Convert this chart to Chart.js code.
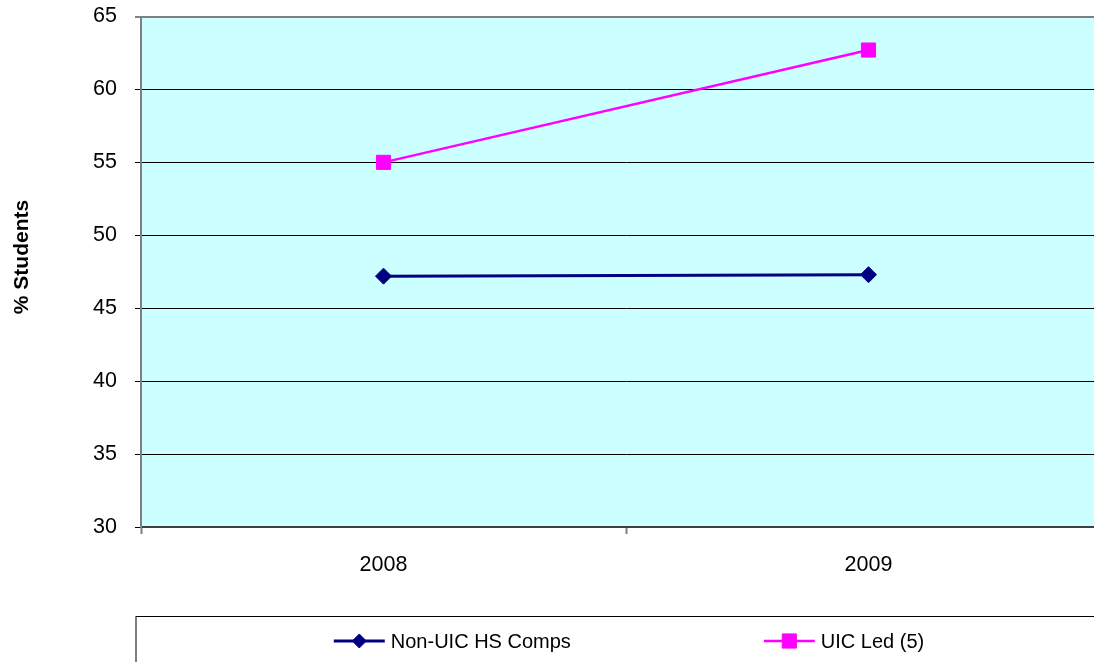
<!DOCTYPE html>
<html>
<head>
<meta charset="utf-8">
<title>% Students</title>
<script src="https://cdn.jsdelivr.net/npm/chart.js@4"></script>
<style>
  html, body { margin: 0; padding: 0; background: #ffffff; overflow: hidden; }
  #frame { position: relative; width: 1094px; height: 662px; overflow: hidden; }
  #chart { position: absolute; left: 0; top: 0; }
</style>
</head>
<body>
<div id="frame">
  <canvas id="chart" width="1122" height="700"></canvas>
</div>
<script>
// Survey years on the category axis
const years = ['2008', '2009'];

// Share of students (%) per group
const nonUicValues = [47.2, 47.3];
const uicLedValues = [55.0, 62.7];

const seriesNames = ['Non-UIC HS Comps', 'UIC Led (5)'];
const axisTitle = '% Students';

// Value axis range
const yMin = 30;
const yMax = 65;
const yStep = 5;

const FONT = '"Liberation Sans", Arial, sans-serif';

// Fills the plot area with the pale cyan panel colour
const plotBackground = {
  id: 'plotBackground',
  beforeDraw(chart) {
    const { ctx, chartArea: a } = chart;
    ctx.save();
    ctx.fillStyle = '#CCFFFF';
    ctx.fillRect(a.left, a.top, a.right - a.left, a.bottom - a.top);
    ctx.restore();
  }
};

// Rotated axis title, centred on the left margin
const sideTitle = {
  id: 'sideTitle',
  afterDraw(chart) {
    const { ctx } = chart;
    ctx.save();
    ctx.translate(22, 257);
    ctx.rotate(-Math.PI / 2);
    ctx.font = 'bold 21px ' + FONT;
    ctx.fillStyle = '#000000';
    ctx.textAlign = 'center';
    ctx.textBaseline = 'middle';
    ctx.fillText(axisTitle, 0, 0);
    ctx.restore();
  }
};

// Boxed legend below the axis, items laid out side by side
const boxedLegend = {
  id: 'boxedLegend',
  afterDraw(chart) {
    const { ctx } = chart;
    const boxLeft = 136, boxTop = 616.5, boxRight = 1122, boxBottom = 720;
    const rowY = 641;
    const sampleLen = 51, sampleGap = 6, itemGap = 193;
    ctx.save();
    ctx.strokeStyle = '#000000';
    ctx.lineWidth = 1;
    ctx.strokeRect(boxLeft, boxTop, boxRight - boxLeft, boxBottom - boxTop);

    ctx.font = '20px ' + FONT;
    const items = chart.data.datasets.map(ds => ({
      ds,
      w: sampleLen + sampleGap + ctx.measureText(ds.label).width
    }));
    const total = items.reduce((s, it) => s + it.w, 0) + itemGap * (items.length - 1);
    let x = (boxLeft + boxRight) / 2 - total / 2;

    items.forEach(({ ds, w }) => {
      ctx.strokeStyle = ds.borderColor;
      ctx.lineWidth = ds.borderWidth;
      ctx.beginPath();
      ctx.moveTo(x, rowY);
      ctx.lineTo(x + sampleLen, rowY);
      ctx.stroke();
      ctx.fillStyle = ds.pointBackgroundColor;
      ctx.strokeStyle = ds.pointBorderColor;
      ctx.lineWidth = ds.pointBorderWidth;
      Chart.helpers.drawPoint(ctx, {
        pointStyle: ds.pointStyle,
        radius: ds.legendPointRadius,
        borderWidth: ds.pointBorderWidth,
        rotation: 0
      }, x + sampleLen / 2, rowY);
      ctx.fillStyle = '#000000';
      ctx.textAlign = 'left';
      ctx.textBaseline = 'middle';
      ctx.fillText(ds.label, x + sampleLen + sampleGap, rowY + 1);
      x += w + itemGap;
    });
    ctx.restore();
  }
};

new Chart(document.getElementById('chart'), {
  type: 'line',
  data: {
    labels: years,
    datasets: [
      {
        label: seriesNames[0],
        data: nonUicValues,
        borderColor: '#000080',
        backgroundColor: '#000080',
        borderWidth: 3,
        pointStyle: 'rectRot',
        pointRadius: 8,
        legendPointRadius: 7,
        pointBorderWidth: 1,
        pointBackgroundColor: '#000080',
        pointBorderColor: '#000080',
        tension: 0,
        fill: false
      },
      {
        label: seriesNames[1],
        data: uicLedValues,
        borderColor: '#FF00FF',
        backgroundColor: '#FF00FF',
        borderWidth: 2.5,
        pointStyle: 'rect',
        pointRadius: 10,
        legendPointRadius: 10,
        pointBorderWidth: 1,
        pointBackgroundColor: '#FF00FF',
        pointBorderColor: '#FF00FF',
        tension: 0,
        fill: false
      }
    ]
  },
  options: {
    responsive: false,
    animation: false,
    devicePixelRatio: 1,
    layout: { padding: { left: 0, top: 16.5, right: 11, bottom: 0 } },
    plugins: {
      legend: { display: false },
      tooltip: { enabled: false },
      title: { display: false }
    },
    scales: {
      x: {
        type: 'category',
        offset: true,
        grid: {
          offset: true,
          drawOnChartArea: false,
          drawTicks: true,
          tickLength: 7,
          tickColor: '#808080',
          tickWidth: 2
        },
        border: { display: true, color: '#404040', width: 2 },
        ticks: {
          color: '#000000',
          font: { family: FONT, size: 21.5 },
          padding: 18,
          maxRotation: 0
        },
        afterFit(scale) { scale.height = 173; }
      },
      y: {
        min: yMin,
        max: yMax,
        grid: {
          color: ctx => (ctx.tick && ctx.tick.value === yMax ? '#808080' : '#000000'),
          lineWidth: ctx => (ctx.tick && ctx.tick.value === yMax ? 2 : 1),
          drawTicks: true,
          tickLength: 6,
          tickColor: '#000000',
          tickWidth: 1
        },
        border: { display: true, color: '#808080', width: 2 },
        ticks: {
          stepSize: yStep,
          color: '#000000',
          font: { family: FONT, size: 21.5 },
          padding: 18
        },
        afterFit(scale) {
          scale.width = 141;
          // only half a label's height is needed above and below the axis
          scale.paddingTop = 12;
          scale.paddingBottom = 12;
        }
      }
    }
  },
  plugins: [plotBackground, sideTitle, boxedLegend]
});
</script>
</body>
</html>
